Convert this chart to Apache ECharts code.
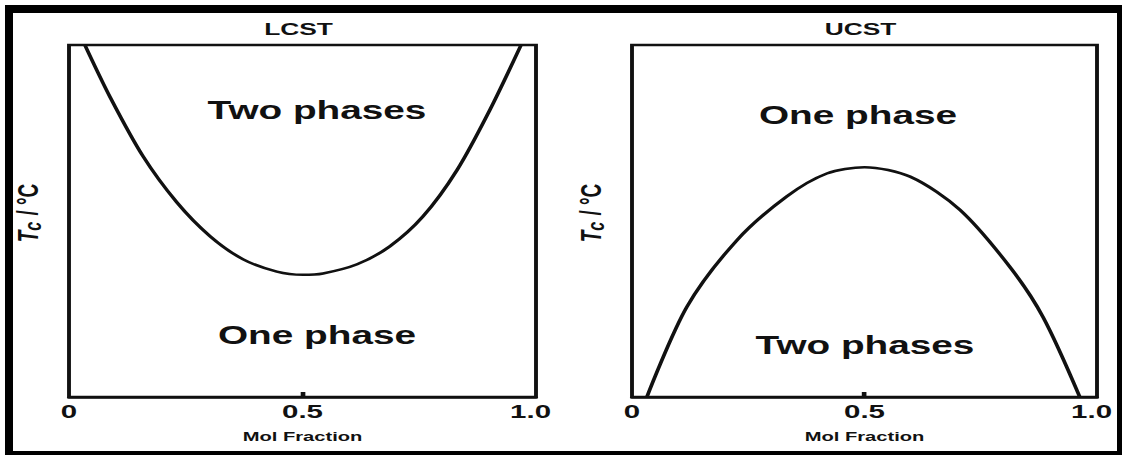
<!DOCTYPE html>
<html>
<head>
<meta charset="utf-8">
<title>LCST / UCST phase diagrams</title>
<script src="https://cdn.jsdelivr.net/npm/echarts@6/dist/echarts.min.js"></script>
<style>
  html, body { margin: 0; padding: 0; background: #fff; overflow: hidden; }
  #wrap { width: 1122px; height: 455px; position: relative; overflow: hidden; background: #fff; }
  #chart { position: absolute; left: 0; top: 0; height: 455px; transform-origin: 0 0; }
</style>
</head>
<body>
<div id="wrap"><div id="chart"></div></div>
<script>
// ---- data ---------------------------------------------------------------
const panelTitles = ['LCST', 'UCST'];
const xTickValues = [0, 0.5, 1];
const xTickLabels = ['0', '0.5', '1.0'];
const xMarkValues = [0.5];
const xAxisName = 'Mol Fraction';

// LCST binodal: mol fraction vs. normalised critical temperature
const lcstX = [0.034, 0.088, 0.158, 0.231, 0.302, 0.373, 0.445, 0.501, 0.544, 0.617, 0.687, 0.758, 0.831, 0.901, 0.968];
const lcstY = [1.000, 0.852, 0.685, 0.553, 0.457, 0.391, 0.356, 0.347, 0.351, 0.377, 0.428, 0.513, 0.645, 0.815, 1.000];

// UCST binodal
const ucstX = [0.032, 0.118, 0.226, 0.333, 0.419, 0.500, 0.598, 0.705, 0.813, 0.884, 0.963];
const ucstY = [0.000, 0.256, 0.446, 0.570, 0.635, 0.653, 0.626, 0.532, 0.369, 0.227, 0.000];

const lcstRegionTexts = ['Two phases', 'One phase'];
const ucstRegionTexts = ['One phase', 'Two phases'];

// ---- layout -------------------------------------------------------------
// The whole figure is drawn narrow and stretched sideways, giving the
// wide, flattened lettering of the printed figure.
const SX = 1.55;
const W = 1122, H = 455;
const px = v => v / SX;               // screen x -> drawing x

const chartEl = document.getElementById('chart');
chartEl.style.width = px(W) + 'px';
chartEl.style.transform = 'scaleX(' + SX + ')';

const INK = '#111';
const FONT = '"Liberation Sans", Arial, Helvetica, sans-serif';

const boxes = [
  { left: 69, right: 536, top: 45, bottom: 397 },
  { left: 632, right: 1097, top: 45, bottom: 397 }
];

const zip = (xs, ys) => xs.map((x, i) => [x, ys[i]]);

function textEl(text, x, y, size) {
  return {
    type: 'text', x: px(x), y: y, silent: true,
    style: {
      text: text, fill: INK,
      font: 'bold ' + size + 'px ' + FONT,
      align: 'center', verticalAlign: 'middle',
      textAlign: 'center', textVerticalAlign: 'middle'
    }
  };
}

const tickFont = { color: INK, fontFamily: FONT, fontWeight: 'bold', fontSize: 19 };

const option = {
  backgroundColor: '#fff',
  animation: false,
  title: panelTitles.map((t, i) => ({
    text: t,
    left: px((boxes[i].left + boxes[i].right) / 2 - 4),
    top: 21,
    textAlign: 'center',
    padding: 0,
    textStyle: { color: INK, fontFamily: FONT, fontWeight: 'bold', fontSize: 17 }
  })),
  grid: boxes.map(b => ({
    left: px(b.left), top: b.top,
    width: px(b.right - b.left), height: b.bottom - b.top,
    show: true, borderColor: INK, borderWidth: 2.5,
    backgroundColor: 'transparent',
    containLabel: false
  })),
  xAxis: boxes.map((b, i) => ({
    type: 'value', gridIndex: i, min: 0, max: 1,
    name: xAxisName, nameLocation: 'middle', nameGap: 33,
    nameTextStyle: { color: INK, fontFamily: FONT, fontWeight: 'bold', fontSize: 13 },
    axisLine: { show: true, lineStyle: { color: INK, width: 2.5 } },
    axisTick: { show: true, inside: true, length: 5, customValues: xMarkValues,
                lineStyle: { color: INK, width: 3 } },
    axisLabel: Object.assign({
      show: true, margin: 5, customValues: xTickValues,
      // the end label sits a little inside the frame edge
      formatter: v => {
        const k = xTickValues.indexOf(v);
        return k === xTickValues.length - 1 ? '{e|' + xTickLabels[k] + '}' : xTickLabels[k];
      },
      rich: { e: Object.assign({ padding: [0, 7, 0, 0] }, tickFont) }
    }, tickFont),
    splitLine: { show: false }
  })),
  yAxis: boxes.map((b, i) => ({
    type: 'value', gridIndex: i, min: 0, max: 1,
    name: '{t|T}{s|c}{n| / °C}',
    nameLocation: 'middle', nameRotate: 90, nameGap: 16,
    nameTextStyle: {
      color: INK,
      padding: [0, 0, 0, 16],
      rich: {
        t: { fontFamily: FONT, fontWeight: 'bold', fontStyle: 'italic', fontSize: 19, color: INK },
        s: { fontFamily: FONT, fontWeight: 'bold', fontStyle: 'italic', fontSize: 16, color: INK, padding: [5, 1, 0, 0] },
        n: { fontFamily: FONT, fontWeight: 'bold', fontSize: 19, color: INK }
      }
    },
    axisLine: { show: false },
    axisTick: { show: false },
    axisLabel: { show: false },
    splitLine: { show: false }
  })),
  series: [
    {
      type: 'line', xAxisIndex: 0, yAxisIndex: 0,
      data: zip(lcstX, lcstY), smooth: 0.3, showSymbol: false, symbol: 'none',
      lineStyle: { color: INK, width: 2.5 }, silent: true
    },
    {
      type: 'line', xAxisIndex: 1, yAxisIndex: 1,
      data: zip(ucstX, ucstY), smooth: 0.3, showSymbol: false, symbol: 'none',
      lineStyle: { color: INK, width: 2.5 }, silent: true
    }
  ],
  graphic: [
    // heavy outer frame
    { type: 'rect', silent: true, shape: { x: px(5), y: 5, width: px(8), height: H - 5 }, style: { fill: '#000' } },
    { type: 'rect', silent: true, shape: { x: px(5), y: 5, width: px(W - 5), height: 8 }, style: { fill: '#000' } },
    { type: 'rect', silent: true, shape: { x: px(1117), y: 5, width: px(5), height: H - 5 }, style: { fill: '#000' } },
    { type: 'rect', silent: true, shape: { x: px(5), y: 451, width: px(W - 5), height: 4 }, style: { fill: '#000' } },
    // phase region labels
    textEl(lcstRegionTexts[0], 317, 110, 25),
    textEl(lcstRegionTexts[1], 317, 335, 25),
    textEl(ucstRegionTexts[0], 858, 115, 25),
    textEl(ucstRegionTexts[1], 865, 345, 25)
  ]
};

const chart = echarts.init(chartEl, null, { renderer: 'svg' });
chart.setOption(option);
</script>
</body>
</html>
